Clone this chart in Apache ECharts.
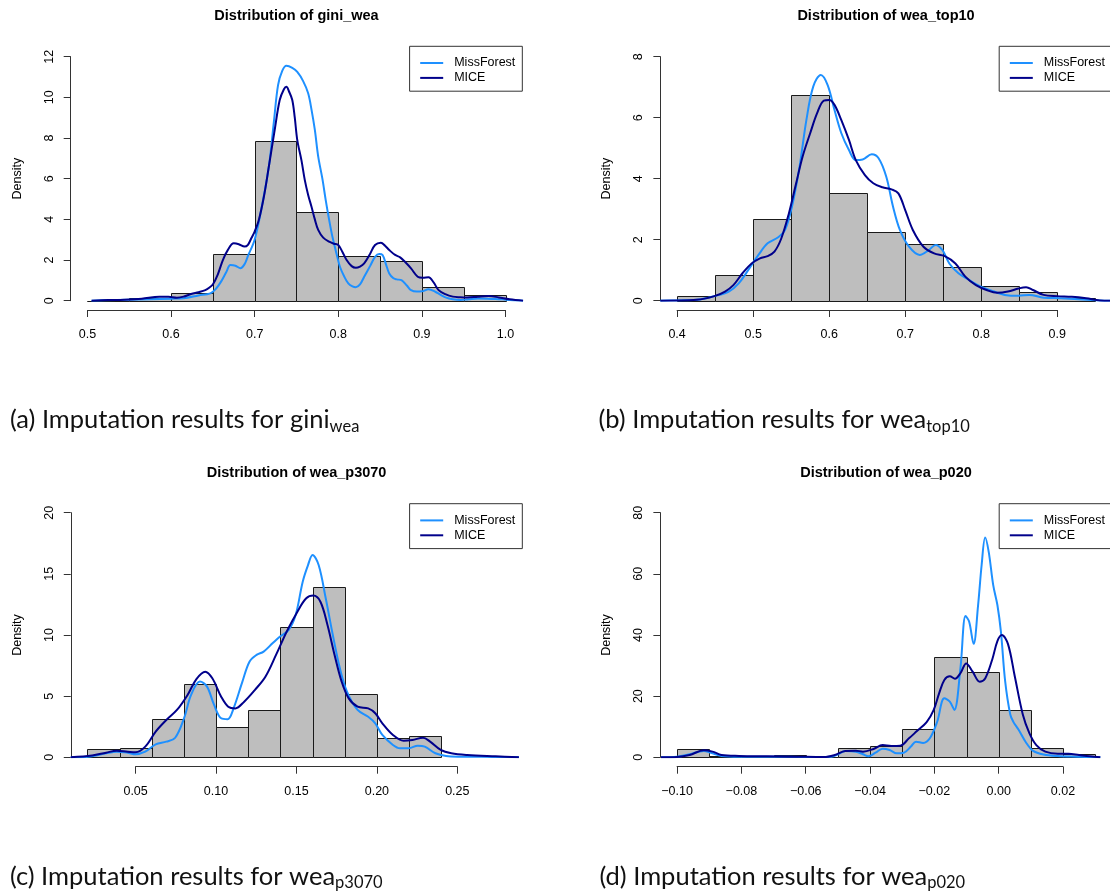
<!DOCTYPE html>
<html><head><meta charset="utf-8">
<script src="https://cdn.jsdelivr.net/npm/echarts@6/dist/echarts.min.js"></script>
<style>html,body{margin:0;padding:0;background:#fff}#c{width:1110px;height:895px}</style>
</head><body><div id="c"></div>
<script>
// ---------------- data ----------------
const seriesNames = ['MissForest', 'MICE'];

// (a) gini_wea
const titleA = 'Distribution of gini_wea';
const xTicksA = [0.5, 0.6, 0.7, 0.8, 0.9, 1.0];
const yTicksA = [0, 2, 4, 6, 8, 10, 12];
const breaksA = [0.50, 0.55, 0.60, 0.65, 0.70, 0.75, 0.80, 0.85, 0.90, 0.95, 1.00];
const densA = [0.00, 0.15, 0.36, 2.28, 7.84, 4.34, 2.18, 1.97, 0.67, 0.30];
const mfA = [[0.505,0],[0.52,0.02],[0.55,0.05],[0.575,0.07],[0.6,0.1],[0.615,0.12],[0.633,0.26],[0.647,0.36],[0.654,0.6],[0.66,0.95],[0.666,1.4],[0.671,1.75],[0.677,1.72],[0.683,1.6],[0.688,1.8],[0.692,2.2],[0.7,3.0],[0.708,4.5],[0.717,6.6],[0.723,8.8],[0.728,10.6],[0.733,11.3],[0.738,11.55],[0.745,11.45],[0.751,11.25],[0.758,10.8],[0.764,10.2],[0.768,9.4],[0.772,8.4],[0.776,7.1],[0.781,6.0],[0.785,4.95],[0.789,4.0],[0.793,3.15],[0.798,2.3],[0.802,1.67],[0.807,1.2],[0.812,0.85],[0.817,0.7],[0.821,0.66],[0.826,0.8],[0.831,1.18],[0.838,1.7],[0.844,2.16],[0.849,2.3],[0.853,2.25],[0.857,1.8],[0.861,1.34],[0.866,1.1],[0.87,1.05],[0.876,1.0],[0.882,0.75],[0.887,0.52],[0.894,0.45],[0.9,0.46],[0.908,0.56],[0.916,0.44],[0.922,0.3],[0.929,0.15],[0.937,0.07],[0.946,0.03],[0.956,0.07],[0.967,0.11],[0.978,0.1],[0.988,0.08],[0.997,0.07],[1.005,0.03],[1.021,0]];
const miceA = [[0.505,0],[0.525,0.03],[0.544,0.05],[0.565,0.1],[0.586,0.2],[0.597,0.2],[0.607,0.15],[0.615,0.2],[0.624,0.33],[0.633,0.42],[0.641,0.52],[0.646,0.65],[0.65,0.8],[0.656,1.3],[0.662,2.0],[0.668,2.5],[0.675,2.82],[0.681,2.78],[0.688,2.66],[0.692,2.75],[0.696,3.07],[0.7,3.4],[0.705,3.97],[0.711,5.1],[0.717,6.6],[0.724,8.4],[0.73,9.87],[0.735,10.4],[0.738,10.52],[0.741,10.3],[0.745,9.87],[0.748,9.0],[0.751,7.9],[0.756,6.9],[0.76,5.93],[0.764,5.2],[0.768,4.62],[0.772,4.0],[0.776,3.48],[0.782,3.1],[0.789,2.9],[0.795,2.8],[0.8,2.74],[0.805,2.4],[0.81,2.0],[0.816,1.7],[0.821,1.62],[0.826,1.68],[0.831,1.84],[0.838,2.3],[0.844,2.74],[0.851,2.85],[0.856,2.7],[0.861,2.49],[0.868,2.25],[0.874,2.13],[0.88,1.9],[0.887,1.59],[0.895,1.18],[0.901,1.13],[0.908,1.15],[0.914,0.9],[0.92,0.52],[0.928,0.32],[0.937,0.2],[0.946,0.17],[0.954,0.16],[0.967,0.2],[0.98,0.23],[0.992,0.16],[1.005,0.07],[1.021,0]];

// (b) wea_top10
const titleB = 'Distribution of wea_top10';
const xTicksB = [0.4, 0.5, 0.6, 0.7, 0.8, 0.9];
const yTicksB = [0, 2, 4, 6, 8];
const breaksB = [0.40, 0.45, 0.50, 0.55, 0.60, 0.65, 0.70, 0.75, 0.80, 0.85, 0.90, 0.95];
const densB = [0.15, 0.85, 2.69, 6.75, 3.54, 2.25, 1.85, 1.09, 0.49, 0.30, 0.10];
const mfB = [[0.378,0],[0.4,0.01],[0.426,0.03],[0.449,0.15],[0.468,0.3],[0.481,0.57],[0.495,1.06],[0.507,1.5],[0.519,1.88],[0.533,2.08],[0.542,2.32],[0.551,3.08],[0.561,4.39],[0.57,5.92],[0.579,7.02],[0.589,7.4],[0.598,7.07],[0.607,6.25],[0.616,5.49],[0.626,4.94],[0.635,4.61],[0.644,4.63],[0.656,4.8],[0.665,4.67],[0.675,4.07],[0.684,3.08],[0.693,2.32],[0.705,1.77],[0.719,1.5],[0.731,1.66],[0.74,1.83],[0.749,1.66],[0.758,1.22],[0.77,0.9],[0.784,0.68],[0.798,0.48],[0.817,0.3],[0.831,0.19],[0.849,0.16],[0.863,0.19],[0.882,0.1],[0.905,0.08],[0.928,0.05],[0.956,0.01],[0.972,0]];
const miceB = [[0.378,0],[0.426,0.03],[0.449,0.15],[0.463,0.3],[0.474,0.51],[0.486,0.9],[0.498,1.22],[0.509,1.39],[0.519,1.46],[0.528,1.61],[0.537,2.04],[0.547,2.86],[0.556,3.79],[0.565,4.72],[0.575,5.49],[0.584,6.14],[0.593,6.56],[0.6,6.58],[0.607,6.42],[0.616,5.92],[0.626,5.27],[0.635,4.61],[0.647,4.12],[0.658,3.85],[0.67,3.72],[0.682,3.65],[0.691,3.52],[0.7,2.97],[0.71,2.32],[0.724,1.77],[0.738,1.55],[0.752,1.46],[0.766,1.22],[0.779,0.79],[0.793,0.51],[0.807,0.35],[0.821,0.26],[0.835,0.3],[0.849,0.4],[0.859,0.44],[0.868,0.35],[0.882,0.19],[0.9,0.15],[0.919,0.13],[0.938,0.08],[0.956,0.01],[0.972,0]];

// (c) wea_p3070
const titleC = 'Distribution of wea_p3070';
const xTicksC = [0.05, 0.10, 0.15, 0.20, 0.25];
const yTicksC = [0, 5, 10, 15, 20];
const breaksC = [0.02, 0.04, 0.06, 0.08, 0.10, 0.12, 0.14, 0.16, 0.18, 0.20, 0.22, 0.24];
const densC = [0.65, 0.74, 3.13, 5.97, 2.51, 3.87, 10.63, 13.90, 5.18, 1.55, 1.77];
const mfC = [[0.0097,0],[0.0207,0.05],[0.0317,0.33],[0.0383,0.46],[0.045,0.38],[0.05,0.25],[0.056,0.46],[0.0625,1.06],[0.0691,1.28],[0.0746,1.6],[0.0801,3.19],[0.0845,5.1],[0.09,6.19],[0.0944,5.78],[0.0988,4.28],[0.1032,3.19],[0.1072,3.11],[0.1109,4.0],[0.1164,6.19],[0.1208,7.82],[0.1252,8.37],[0.1296,8.64],[0.1351,9.32],[0.1396,9.86],[0.1451,10.4],[0.1495,11.63],[0.1539,14.36],[0.1572,15.72],[0.16,16.54],[0.1638,15.72],[0.1682,13.0],[0.1726,10.0],[0.177,7.28],[0.1814,5.37],[0.188,3.87],[0.1946,3.32],[0.199,2.78],[0.2034,1.83],[0.21,1.01],[0.2144,0.74],[0.2199,0.74],[0.2254,0.95],[0.2298,0.87],[0.2364,0.33],[0.243,0.11],[0.2518,0.05],[0.2738,0.03],[0.2883,0]];
const miceC = [[0.0097,0],[0.023,0.14],[0.0317,0.38],[0.0383,0.54],[0.045,0.46],[0.05,0.41],[0.056,0.87],[0.0625,2.1],[0.0691,3.05],[0.0757,3.87],[0.0823,5.1],[0.0878,6.4],[0.0933,7.0],[0.0977,6.46],[0.1032,4.96],[0.1076,4.14],[0.112,4.0],[0.1175,4.55],[0.1241,5.5],[0.1307,6.59],[0.1373,8.37],[0.1439,10.27],[0.1506,11.91],[0.1561,13.0],[0.1605,13.22],[0.1649,12.72],[0.1693,10.82],[0.1737,8.37],[0.1781,6.19],[0.1825,4.82],[0.188,4.14],[0.1946,4.0],[0.199,3.6],[0.2034,2.78],[0.21,1.83],[0.2166,1.36],[0.2221,1.42],[0.2287,1.6],[0.2331,1.28],[0.2397,0.6],[0.2463,0.33],[0.2562,0.19],[0.2738,0.08],[0.2883,0]];

// (d) wea_p020
const titleD = 'Distribution of wea_p020';
const xTicksD = [-0.10, -0.08, -0.06, -0.04, -0.02, 0.00, 0.02];
const yTicksD = [0, 20, 40, 60, 80];
const breaksD = [-0.10, -0.09, -0.08, -0.07, -0.06, -0.05, -0.04, -0.03, -0.02, -0.01, 0.00, 0.01, 0.02, 0.03];
const densD = [2.60, 0.55, 0.33, 0.87, 0.00, 3.05, 3.80, 9.16, 32.70, 28.05, 15.50, 2.94, 1.15];
const mfD = [[-0.105,0],[-0.1,0.2],[-0.0961,1.0],[-0.0917,2.07],[-0.0895,1.5],[-0.0862,0.44],[-0.0807,0.2],[-0.0697,0.2],[-0.0609,0.1],[-0.0521,0.2],[-0.0499,1.0],[-0.0477,2.07],[-0.0444,1.85],[-0.0422,1.0],[-0.0405,0.33],[-0.0383,1.5],[-0.0361,2.83],[-0.0339,2.4],[-0.0317,1.3],[-0.0295,1.5],[-0.0273,3.5],[-0.0257,5.1],[-0.0235,4.7],[-0.0213,6.4],[-0.0191,11.7],[-0.0169,19.3],[-0.0152,18.2],[-0.0138,15.5],[-0.0119,29.1],[-0.0103,46.2],[-0.0092,44.4],[-0.0078,37.1],[-0.0064,49.8],[-0.0053,62.9],[-0.0042,71.9],[-0.0031,67.2],[-0.0017,56.3],[-0.0004,49.8],[0.0007,41.0],[0.002,25.0],[0.0036,14.0],[0.0046,11.5],[0.0062,9.0],[0.0084,5.0],[0.0106,2.2],[0.014,0.9],[0.0184,0.4],[0.0242,0.2],[0.0316,0]];
const miceD = [[-0.105,0],[-0.1,0.1],[-0.0961,0.76],[-0.0917,2.3],[-0.089,1.85],[-0.0862,0.76],[-0.0807,0.44],[-0.0719,0.33],[-0.0631,0.22],[-0.0543,0.1],[-0.051,0.76],[-0.0477,2.07],[-0.0444,2.18],[-0.0422,1.85],[-0.0389,2.72],[-0.0361,4.0],[-0.0334,3.7],[-0.0306,3.8],[-0.0279,6.2],[-0.0255,8.5],[-0.0224,11.5],[-0.0202,15.5],[-0.0185,21.0],[-0.0169,25.3],[-0.0152,26.5],[-0.0136,25.7],[-0.0119,27.5],[-0.0101,30.7],[-0.0081,28.0],[-0.0059,24.7],[-0.0042,25.8],[-0.002,32.0],[-0.0004,38.0],[0.001,40.0],[0.0029,37.0],[0.005,26.5],[0.0075,14.0],[0.0095,8.0],[0.0117,4.0],[0.0145,1.85],[0.0184,1.2],[0.0217,1.2],[0.025,0.76],[0.0283,0.33],[0.0316,0]];

// captions
const captionMain = ['(a) Imputation results for gini', '(b) Imputation results for wea', '(c) Imputation results for wea', '(d) Imputation results for wea'];
const captionSub = ['wea', 'top10', 'p3070', 'p020'];

// ---------------- layout ----------------
// tick span in pixels (tl..tr), plot region limits (xa..xb), vertical band (top, h)
const panels = [
  {title: titleA, xt: xTicksA, yt: yTicksA, br: breaksA, de: densA, mf: mfA, mi: miceA, dec: 1,
   tl: 87.4, tr: 505.5, xa: 0.48, xb: 1.02, top: 56.7, h: 244, xOff: 9.3, tx: 296.5, ty: 8.5, lx: 409.6, ly: 46.3},
  {title: titleB, xt: xTicksB, yt: yTicksB, br: breaksB, de: densB, mf: mfB, mi: miceB, dec: 1,
   tl: 677.1, tr: 1057.3, xa: 0.378, xb: 0.972, top: 56.7, h: 244, xOff: 9.3, tx: 886, ty: 8.5, lx: 999.2, ly: 46.3},
  {title: titleC, xt: xTicksC, yt: yTicksC, br: breaksC, de: densC, mf: mfC, mi: miceC, dec: 2,
   tl: 135.6, tr: 457.3, xa: 0.0097, xb: 0.2883, top: 512.7, h: 244.6, xOff: 9.4, tx: 296.6, ty: 465.5, lx: 409.6, ly: 503.7},
  {title: titleD, xt: xTicksD, yt: yTicksD, br: breaksD, de: densD, mf: mfD, mi: miceD, dec: 2,
   tl: 677.1, tr: 1063, xa: -0.1052, xb: 0.0352, top: 512.7, h: 244.6, xOff: 9.4, tx: 886, ty: 465.5, lx: 999.2, ly: 503.7}
];
const capPos = [[10, 407], [598.5, 407], [10, 863.5], [599.5, 863.5]];

const FONT = 'Liberation Sans';
const COL_MF = '#1E90FF', COL_MICE = '#00008B';
const AX = '#333';

function histItem(params, api) {
  const a = api.coord([api.value(0), api.value(2)]);
  const b = api.coord([api.value(1), 0]);
  const x0 = Math.round(a[0]) + 0.5, x1 = Math.round(b[0]) + 0.5;
  const y0 = Math.round(a[1]) + 0.5, y1 = Math.round(b[1]) + 0.5;
  return {type: 'rect', shape: {x: x0, y: y0, width: x1 - x0, height: y1 - y0},
          style: {fill: '#BEBEBE', stroke: '#1a1a1a', lineWidth: 1}};
}

const grids = [], xAxes = [], yAxes = [], series = [];
panels.forEach((p, i) => {
  const ppu = (p.tr - p.tl) / (p.xt[p.xt.length - 1] - p.xt[0]);
  const left = p.tl + (p.xa - p.xt[0]) * ppu;
  const width = (p.xb - p.xa) * ppu;
  const gMain = grids.length;
  // plot region grid (data drawn here)
  grids.push({left: left, top: p.top, width: width, height: p.h, outerBoundsMode: 'none', containLabel: false});
  xAxes.push({type: 'value', gridIndex: gMain, min: p.xa, max: p.xb, show: false});
  yAxes.push({
    type: 'value', gridIndex: gMain, min: p.yt[0], max: p.yt[p.yt.length - 1], interval: p.yt[1] - p.yt[0],
    splitLine: {show: false},
    name: 'Density', nameLocation: 'middle', nameRotate: 90, nameGap: 47,
    nameTextStyle: {fontFamily: FONT, fontSize: 12.5, color: '#000'},
    axisLine: {show: true, onZero: false, lineStyle: {color: AX, width: 1}},
    axisTick: {show: true, length: 7, lineStyle: {color: AX}},
    axisLabel: {rotate: 90, margin: 15, fontFamily: FONT, fontSize: 12.5, color: '#000'}
  });
  // tick-span grid (carries the visible x axis, like R's axis())
  const gAx = grids.length;
  grids.push({left: p.tl, top: p.top, width: p.tr - p.tl, height: p.h, outerBoundsMode: 'none', containLabel: false});
  xAxes.push({
    type: 'value', gridIndex: gAx, min: p.xt[0], max: p.xt[p.xt.length - 1],
    interval: Math.round((p.xt[1] - p.xt[0]) * 1000) / 1000,
    offset: p.xOff, splitLine: {show: false},
    axisLine: {show: true, onZero: false, lineStyle: {color: AX, width: 1}},
    axisTick: {show: true, length: 7, lineStyle: {color: AX}},
    axisLabel: {margin: 18, fontFamily: FONT, fontSize: 12.5, color: '#000',
      formatter: v => { if (Math.abs(v) < 1e-9) v = 0; return v.toFixed(p.dec).replace('-', '\u2212'); }}
  });
  yAxes.push({type: 'value', gridIndex: gAx, min: 0, max: 1, show: false});

  series.push(
    {type: 'custom', name: 'hist', xAxisIndex: gMain, yAxisIndex: gMain, renderItem: histItem, clip: false, silent: true, z: 1,
     encode: {x: [0, 1], y: 2},
     data: p.de.map((d, j) => [p.br[j], p.br[j + 1], d])},
    {type: 'line', name: seriesNames[0], xAxisIndex: gMain, yAxisIndex: gMain, data: p.mf, smooth: 0.35, symbol: 'none',
     z: 2, lineStyle: {color: COL_MF, width: 2}, itemStyle: {color: COL_MF}},
    {type: 'line', name: seriesNames[1], xAxisIndex: gMain, yAxisIndex: gMain, data: p.mi, smooth: 0.35, symbol: 'none',
     z: 3, lineStyle: {color: COL_MICE, width: 2}, itemStyle: {color: COL_MICE}}
  );
});

const option = {
  animation: false,
  backgroundColor: '#fff',
  textStyle: {fontFamily: FONT},
  title: panels.map(p => ({
    text: p.title, left: p.tx, top: p.ty, textAlign: 'center', padding: 0,
    textStyle: {fontFamily: FONT, fontWeight: 'bold', fontSize: 14.5, color: '#000'}
  })),
  legend: panels.map(p => ({
    data: seriesNames, orient: 'vertical', left: p.lx, top: p.ly,
    icon: 'path://M0,0L23,0L23,2L0,2Z',
    itemWidth: 23, itemHeight: 11, itemGap: 1.9,
    padding: [10.2, 7, 6.8, 10.6], borderColor: '#333', borderWidth: 1, borderRadius: 0,
    backgroundColor: '#fff', selectedMode: false,
    textStyle: {fontFamily: FONT, fontSize: 12.5, color: '#000', padding: [0, 0, 0, 6]}
  })),
  grid: grids,
  xAxis: xAxes,
  yAxis: yAxes,
  series: series,
  graphic: captionMain.map((m, i) => ({
    type: 'text', left: capPos[i][0], top: capPos[i][1], silent: true,
    style: {
      text: '{m|' + m + '}{s|' + captionSub[i] + '}',
      rich: {
        m: {fontFamily: 'Lato', fontSize: 25.5, lineHeight: 30, fill: '#111'},
        s: {fontFamily: 'Lato', fontSize: 16.5, lineHeight: 14, verticalAlign: 'bottom', fill: '#111'}
      }
    }
  }))
};

const chart = echarts.init(document.getElementById('c'), null, {renderer: 'canvas'});
chart.setOption(option);
</script></body></html>
